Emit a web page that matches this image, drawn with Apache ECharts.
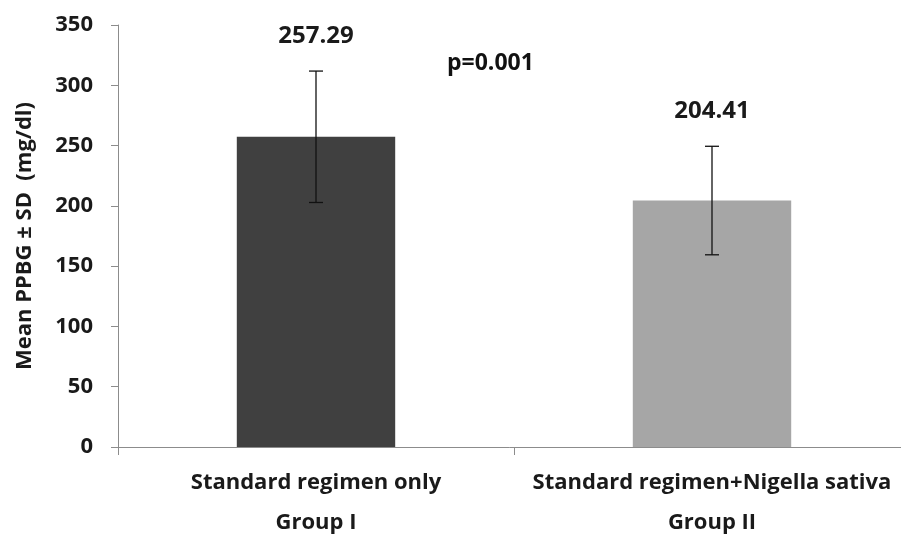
<!DOCTYPE html>
<html>
<head>
<meta charset="utf-8">
<script src="https://cdn.jsdelivr.net/npm/echarts@6/dist/echarts.min.js"></script>
<style>html,body{margin:0;padding:0;background:#fff}#c{width:901px;height:534px}</style>
</head>
<body>
<div id="c"></div>
<script>
const categories = ['Standard regimen only\nGroup I', 'Standard regimen+Nigella sativa\nGroup II'];
const means = [257.29, 204.41];
const sds = [54.5, 45];
const barColors = ['#404040', '#a6a6a6'];
const valueLabels = ['257.29', '204.41'];
const yTicks = { min: 0, max: 350, interval: 50 };
const pText = 'p=0.001';

const FONT = '"Open Sans", "Liberation Sans", sans-serif';
const chart = echarts.init(document.getElementById('c'));
const errData = means.map((m, i) => [i, m - sds[i], m + sds[i], valueLabels[i]]);

chart.setOption({
  animation: false,
  backgroundColor: '#fff',
  grid: { left: 118, top: 25, width: 792, height: 422, containLabel: false, outerBoundsMode: 'none' },
  xAxis: {
    type: 'category',
    data: categories,
    boundaryGap: true,
    axisLine: { lineStyle: { color: '#8c8c8c', width: 1 } },
    axisTick: { show: true, length: 8, lineStyle: { color: '#8c8c8c' } },
    axisLabel: {
      margin: 16, color: '#1a1a1a', fontFamily: FONT, fontWeight: 'bold',
      fontSize: 22, lineHeight: 40, interval: 0
    }
  },
  yAxis: {
    type: 'value',
    min: yTicks.min, max: yTicks.max, interval: yTicks.interval,
    name: 'Mean PPBG ± SD  (mg/dl)',
    nameLocation: 'middle', nameGap: 82, nameRotate: 90,
    nameTextStyle: { color: '#1a1a1a', fontFamily: FONT, fontWeight: 'bold', fontSize: 22 },
    axisLine: { show: true, lineStyle: { color: '#8c8c8c', width: 1 } },
    axisTick: { show: true, length: 7, lineStyle: { color: '#8c8c8c' } },
    splitLine: { show: false },
    axisLabel: { margin: 25, color: '#1a1a1a', fontFamily: FONT, fontWeight: 'bold', fontSize: 22 }
  },
  series: [
    {
      type: 'bar',
      barWidth: '40%',
      data: means.map((v, i) => ({ value: v, itemStyle: { color: barColors[i] } })),
      z: 2
    },
    {
      type: 'custom',
      data: errData,
      z: 5,
      renderItem: function (params, api) {
        const x = api.value(0);
        const lo = api.coord([x, api.value(1)]);
        const hi = api.coord([x, api.value(2)]);
        const w = 7;
        const st = { stroke: '#111', lineWidth: 1.3 };
        return {
          type: 'group',
          children: [
            { type: 'line', shape: { x1: hi[0], y1: hi[1], x2: lo[0], y2: lo[1] }, style: st },
            { type: 'line', shape: { x1: hi[0] - w, y1: hi[1], x2: hi[0] + w, y2: hi[1] }, style: st },
            { type: 'line', shape: { x1: lo[0] - w, y1: lo[1], x2: lo[0] + w, y2: lo[1] }, style: st },
            {
              type: 'text',
              style: {
                x: hi[0], y: hi[1] - 35, text: valueLabels[params.dataIndex],
                fill: '#1a1a1a', font: 'bold 24px ' + FONT,
                textAlign: 'center', textVerticalAlign: 'middle'
              }
            }
          ]
        };
      }
    }
  ],
  graphic: [
    {
      type: 'text', left: 447, top: 52,
      style: { text: pText, fill: '#111', font: 'bold 23px ' + FONT }
    }
  ]
});
</script>
</body>
</html>
